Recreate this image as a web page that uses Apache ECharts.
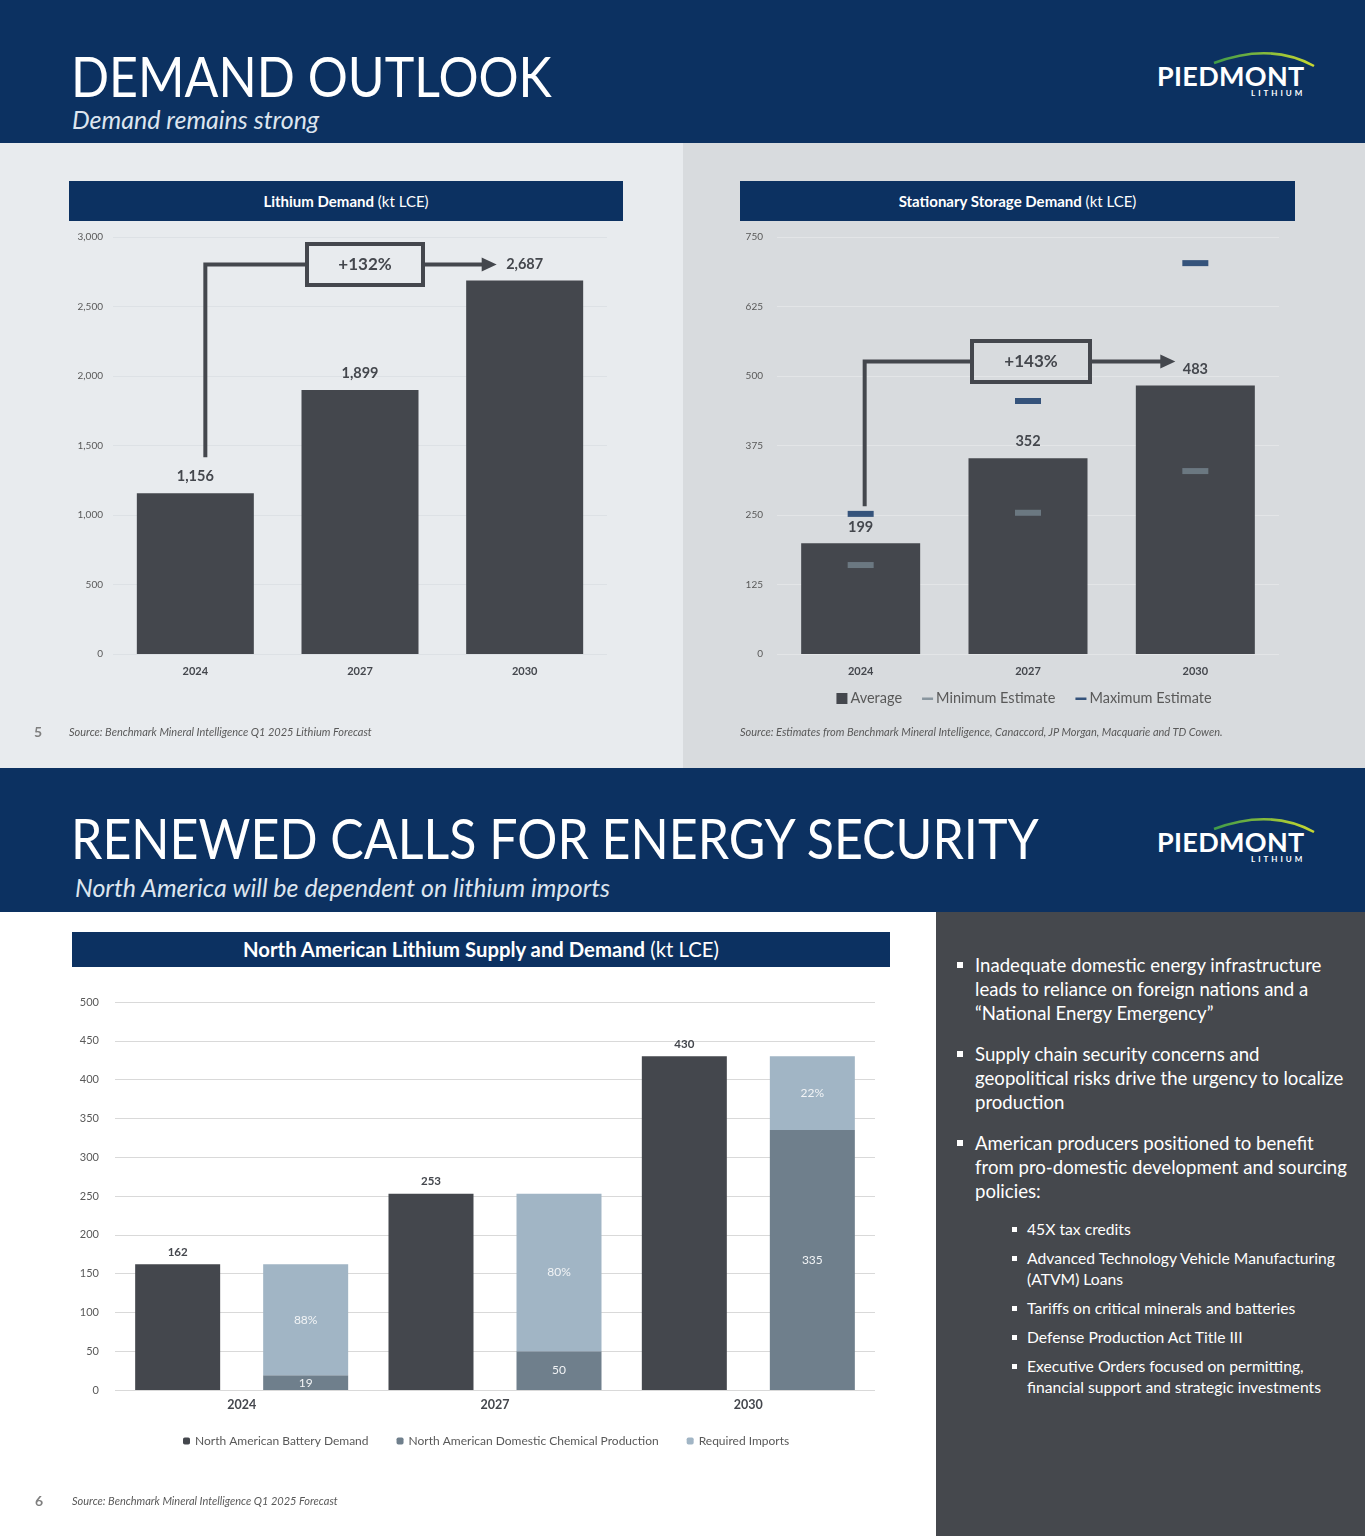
<!DOCTYPE html>
<html><head><meta charset="utf-8">
<script src="https://cdn.jsdelivr.net/npm/echarts@6/dist/echarts.min.js"></script>
<style>
html,body{margin:0;padding:0;}
body{width:1365px;height:1536px;position:relative;overflow:hidden;font-family:Lato,"Open Sans",sans-serif;background:#fff;}
.a{position:absolute;}
.navy{background:#0c3161;}
.title{color:#fff;font-size:56px;font-weight:400;line-height:60px;white-space:nowrap;transform:scaleX(0.895);transform-origin:0 0;}
.sub{color:#dde5ef;font-style:italic;font-size:25px;line-height:28px;white-space:nowrap;}
.hbar{background:#0c3161;color:#fff;text-align:center;white-space:nowrap;}
.src{font-style:italic;font-size:11px;color:#595959;white-space:nowrap;line-height:12px;}
.pg{font-weight:700;font-size:14px;color:#7f7f7f;line-height:16px;}
.logo{color:#fff;}
.logo .p{position:absolute;font-weight:700;font-size:27px;letter-spacing:0.3px;line-height:30px;white-space:nowrap;}
.logo .l{position:absolute;font-weight:700;font-size:8px;letter-spacing:3px;line-height:10px;white-space:nowrap;}
.bl{color:#fff;font-size:18.6px;line-height:24px;white-space:nowrap;}
.sb{color:#fff;font-size:15.7px;line-height:21px;white-space:nowrap;}
.sq{position:absolute;background:#fff;}
</style></head><body>

<!-- slide 5 -->
<div class="a navy" style="left:0;top:0;width:1365px;height:143px;"></div>
<div class="a title" style="left:71px;top:46px;">DEMAND OUTLOOK</div>
<div class="a sub" style="left:72px;top:105px;">Demand remains strong</div>
<div class="a logo" style="left:1150px;top:45px;width:180px;height:60px;">
  <svg class="a" style="left:0;top:0" width="180" height="40"><defs><linearGradient id="g1" x1="0" x2="1"><stop offset="0" stop-color="#3f9b49"/><stop offset="1" stop-color="#c9d830"/></linearGradient></defs><path d="M64,18 Q120,-3 164,21" stroke="url(#g1)" stroke-width="2.5" fill="none"/></svg>
  <div class="p" style="left:7px;top:16px;">PIEDMONT</div>
  <div class="l" style="left:101px;top:43px;">LITHIUM</div>
</div>
<div class="a" style="left:0;top:143px;width:683px;height:625px;background:#e8ebee;"></div>
<div class="a" style="left:683px;top:143px;width:682px;height:625px;background:#d8dbde;"></div>
<div class="a hbar" style="left:69px;top:181px;width:554px;height:40px;line-height:40px;font-size:15px;"><b>Lithium Demand</b> (kt LCE)</div>
<div class="a hbar" style="left:740px;top:181px;width:555px;height:40px;line-height:40px;font-size:15px;"><b>Stationary Storage Demand</b> (kt LCE)</div>
<div id="c1" class="a" style="left:0;top:143px;width:683px;height:625px;"></div>
<div id="c2" class="a" style="left:683px;top:143px;width:682px;height:625px;"></div>
<div class="a pg" style="left:34px;top:724px;">5</div>
<div class="a src" style="left:69px;top:726px;">Source: Benchmark Mineral Intelligence Q1 2025 Lithium Forecast</div>
<div class="a src" style="left:740px;top:726px;">Source: Estimates from Benchmark Mineral Intelligence, Canaccord, JP Morgan, Macquarie and TD Cowen.</div>

<!-- slide 6 -->
<div class="a navy" style="left:0;top:768px;width:1365px;height:144px;"></div>
<div class="a title" style="left:71px;top:808px;">RENEWED CALLS FOR ENERGY SECURITY</div>
<div class="a sub" style="left:75px;top:873px;">North America will be dependent on lithium imports</div>
<div class="a logo" style="left:1150px;top:811px;width:180px;height:60px;">
  <svg class="a" style="left:0;top:0" width="180" height="40"><defs><linearGradient id="g2" x1="0" x2="1"><stop offset="0" stop-color="#3f9b49"/><stop offset="1" stop-color="#c9d830"/></linearGradient></defs><path d="M64,18 Q120,-3 164,21" stroke="url(#g2)" stroke-width="2.5" fill="none"/></svg>
  <div class="p" style="left:7px;top:16px;">PIEDMONT</div>
  <div class="l" style="left:101px;top:43px;">LITHIUM</div>
</div>
<div class="a" style="left:936px;top:912px;width:429px;height:624px;background:#45484d;"></div>
<div class="a hbar" style="left:72px;top:932px;width:818px;height:35px;line-height:35px;font-size:20.3px;"><b>North American Lithium Supply and Demand</b> (kt LCE)</div>
<div id="c3" class="a" style="left:0;top:912px;width:936px;height:624px;"></div>
<div class="a pg" style="left:35px;top:1493px;">6</div>
<div class="a src" style="left:72px;top:1495px;">Source: Benchmark Mineral Intelligence Q1 2025 Forecast</div>

<div class="sq" style="left:957px;top:962px;width:6px;height:6px;"></div>
<div class="a bl" style="left:975px;top:953px;">Inadequate domestic energy infrastructure<br>leads to reliance on foreign nations and a<br>“National Energy Emergency”</div>
<div class="sq" style="left:957px;top:1051px;width:6px;height:6px;"></div>
<div class="a bl" style="left:975px;top:1042px;">Supply chain security concerns and<br>geopolitical risks drive the urgency to localize<br>production</div>
<div class="sq" style="left:957px;top:1140px;width:6px;height:6px;"></div>
<div class="a bl" style="left:975px;top:1131px;">American producers positioned to benefit<br>from pro-domestic development and sourcing<br>policies:</div>
<div class="sq" style="left:1012px;top:1227px;width:5px;height:5px;"></div>
<div class="a sb" style="left:1027px;top:1219px;">45X tax credits</div>
<div class="sq" style="left:1012px;top:1256px;width:5px;height:5px;"></div>
<div class="a sb" style="left:1027px;top:1248px;">Advanced Technology Vehicle Manufacturing<br>(ATVM) Loans</div>
<div class="sq" style="left:1012px;top:1306px;width:5px;height:5px;"></div>
<div class="a sb" style="left:1027px;top:1298px;">Tariffs on critical minerals and batteries</div>
<div class="sq" style="left:1012px;top:1335px;width:5px;height:5px;"></div>
<div class="a sb" style="left:1027px;top:1327px;">Defense Production Act Title III</div>
<div class="sq" style="left:1012px;top:1364px;width:5px;height:5px;"></div>
<div class="a sb" style="left:1027px;top:1356px;">Executive Orders focused on permitting,<br>financial support and strategic investments</div>

<script>
// ---------- data ----------
const demandYears = ['2024', '2027', '2030'];
const lithiumDemand = [1156, 1899, 2687];
const demandGrowth = '+132%';

const storageYears = ['2024', '2027', '2030'];
const storageAverage = [199, 352, 483];
const storageMinimum = [160, 254, 329];
const storageMaximum = [252, 455, 703];
const storageGrowth = '+143%';

const naYears = ['2024', '2027', '2030'];
const naBatteryDemand = [162, 253, 430];
const naDomesticProduction = [19, 50, 335];
const naRequiredImports = [143, 203, 95];
const naImportShare = ['88%', '80%', '22%'];

// ---------- helpers ----------
const DARK = '#44474d';
const FONT = 'Lato, "Open Sans", sans-serif';
const fmt = v => Number(v).toLocaleString('en-US');

function growthArrow(chart, cats, vals, label, o) {
  const px = c => chart.convertToPixel({xAxisIndex: 0}, c);
  const py = v => chart.convertToPixel({yAxisIndex: 0}, v);
  const x0 = px(cats[0]) + o.dx0;
  const yStart = py(vals[0]) - o.startGap;
  const yLevel = py(vals[vals.length - 1]) - o.levelGap;
  const xMid = px(cats[1]) + o.dxBox;
  const xEnd = px(cats[cats.length - 1]) - o.tipGap;
  const bw = o.boxW, bh = o.boxH;
  return [
    {type: 'polyline', shape: {points: [[x0, yStart], [x0, yLevel], [xMid - bw / 2, yLevel]]}, style: {stroke: DARK, lineWidth: 4, fill: null}},
    {type: 'rect', shape: {x: xMid - bw / 2, y: yLevel - bh / 2, width: bw, height: bh}, style: {stroke: DARK, lineWidth: 4, fill: 'rgba(0,0,0,0)'}},
    {type: 'text', x: xMid, y: yLevel, style: {text: label, fill: DARK, font: 'bold 17px ' + FONT, align: 'center', verticalAlign: 'middle', textAlign: 'center', textVerticalAlign: 'middle'}},
    {type: 'line', shape: {x1: xMid + bw / 2, y1: yLevel, x2: xEnd - 12, y2: yLevel}, style: {stroke: DARK, lineWidth: 4}},
    {type: 'polygon', shape: {points: [[xEnd - 15, yLevel - 7], [xEnd, yLevel], [xEnd - 15, yLevel + 7]]}, style: {fill: DARK}}
  ];
}

// ---------- chart 1 ----------
const c1 = echarts.init(document.getElementById('c1'), null, {renderer: 'canvas'});
c1.setOption({
  animation: false,
  textStyle: {fontFamily: FONT},
  grid: {left: 113, right: 76, top: 94, bottom: 114},
  xAxis: {type: 'category', data: demandYears, axisLine: {show: false}, axisTick: {show: false},
    axisLabel: {color: DARK, fontWeight: 'bold', fontSize: 11, margin: 12}},
  yAxis: {type: 'value', min: 0, max: 3000, interval: 500,
    axisLabel: {color: '#595959', fontSize: 10, margin: 10, formatter: fmt},
    splitLine: {lineStyle: {color: '#dde1e5', width: 1}}},
  series: [{type: 'bar', data: lithiumDemand, barWidth: 117, itemStyle: {color: DARK},
    label: {show: true, position: 'top', distance: 9, color: DARK, fontWeight: 'bold', fontSize: 14.5, formatter: p => fmt(p.value)}}]
});
c1.setOption({graphic: growthArrow(c1, demandYears, lithiumDemand, demandGrowth,
  {dx0: 10, startGap: 36, levelGap: 16, dxBox: 5, tipGap: 28, boxW: 116, boxH: 41})});

// ---------- chart 2 ----------
const dashIcon = 'path://M0,0L0.01,0M12,12L11.99,12M0,5H12V7.5H0Z';
const c2 = echarts.init(document.getElementById('c2'), null, {renderer: 'canvas'});
c2.setOption({
  animation: false,
  textStyle: {fontFamily: FONT},
  grid: {left: 94, right: 86, top: 94, bottom: 114},
  legend: {bottom: 57, left: 'center', itemGap: 20, itemWidth: 11, itemHeight: 11,
    textStyle: {color: '#595959', fontSize: 14.5, padding: [0, 0, 0, -2]},
    data: [{name: 'Average', icon: 'rect'}, {name: 'Minimum Estimate', icon: dashIcon}, {name: 'Maximum Estimate', icon: dashIcon}]},
  xAxis: {type: 'category', data: storageYears, axisLine: {show: false}, axisTick: {show: false},
    axisLabel: {color: DARK, fontWeight: 'bold', fontSize: 11, margin: 12}},
  yAxis: {type: 'value', min: 0, max: 750, interval: 125,
    axisLabel: {color: '#595959', fontSize: 10, margin: 14},
    splitLine: {lineStyle: {color: '#e3e5e7', width: 1}}},
  series: [
    {name: 'Average', type: 'bar', data: storageAverage, barWidth: 119, itemStyle: {color: DARK},
      label: {show: true, position: 'top', distance: 9, color: DARK, fontWeight: 'bold', fontSize: 14.5}},
    {name: 'Minimum Estimate', type: 'scatter', data: storageMinimum, symbol: 'rect', symbolSize: [26, 6], itemStyle: {color: '#76848f'}, z: 5},
    {name: 'Maximum Estimate', type: 'scatter', data: storageMaximum, symbol: 'rect', symbolSize: [26, 6], itemStyle: {color: '#0c3161'}, z: 5}
  ]
});
c2.setOption({graphic: growthArrow(c2, storageYears, storageAverage, storageGrowth,
  {dx0: 4, startGap: 37, levelGap: 24, dxBox: 3, tipGap: 20, boxW: 118, boxH: 41})});

// ---------- chart 3 ----------
const c3 = echarts.init(document.getElementById('c3'), null, {renderer: 'canvas'});
c3.setOption({
  animation: false,
  textStyle: {fontFamily: FONT},
  grid: {left: 115, right: 61, top: 90, bottom: 146},
  legend: {top: 518, left: 178, itemGap: 28, itemWidth: 7, itemHeight: 7,
    textStyle: {color: '#595959', fontSize: 12}},
  xAxis: {type: 'category', data: naYears, axisLine: {show: false}, axisTick: {show: false},
    axisLabel: {color: DARK, fontWeight: 'bold', fontSize: 12.5, margin: 8}},
  yAxis: {type: 'value', min: 0, max: 500, interval: 50,
    axisLabel: {color: '#595959', fontSize: 11, margin: 16},
    splitLine: {lineStyle: {color: '#d9d9d9', width: 1}}},
  series: [
    {name: 'North American Battery Demand', type: 'bar', data: naBatteryDemand, barWidth: 85, barGap: '50.6%',
      itemStyle: {color: DARK},
      label: {show: true, position: 'top', distance: 6, color: DARK, fontWeight: 'bold', fontSize: 11.5}},
    {name: 'North American Domestic Chemical Production', type: 'bar', stack: 'supply', data: naDomesticProduction, barWidth: 85,
      itemStyle: {color: '#6f7f8c'},
      label: {show: true, position: 'inside', color: '#f2f4f6', fontSize: 12}},
    {name: 'Required Imports', type: 'bar', stack: 'supply', data: naRequiredImports, barWidth: 85,
      itemStyle: {color: '#a1b5c5'},
      label: {show: true, position: 'inside', color: '#f2f4f6', fontSize: 12, formatter: p => naImportShare[p.dataIndex]}}
  ]
});
</script>
</body></html>
